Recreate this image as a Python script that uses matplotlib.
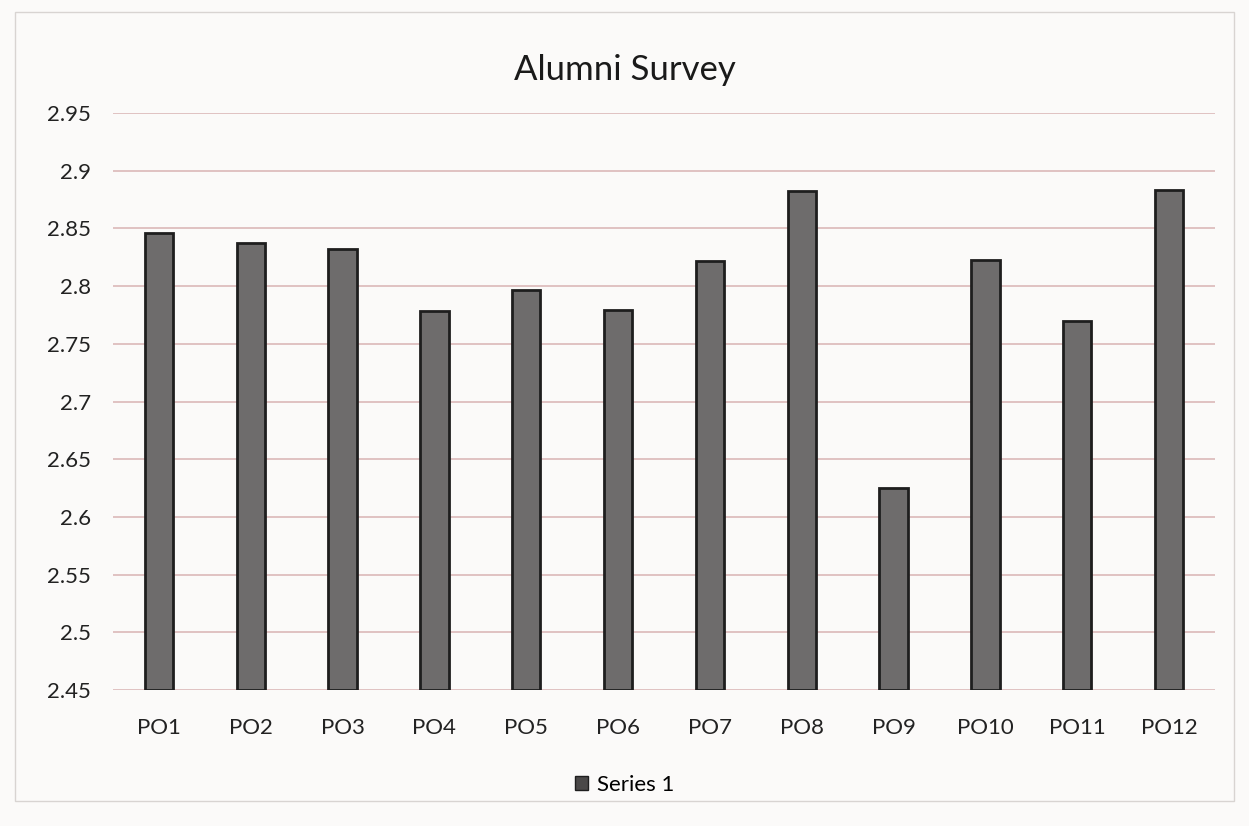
import matplotlib.pyplot as plt
import matplotlib.patches as mpatches

# data
categories = ['PO1', 'PO2', 'PO3', 'PO4', 'PO5', 'PO6', 'PO7', 'PO8', 'PO9', 'PO10', 'PO11', 'PO12']
scores = [2.846, 2.837, 2.832, 2.778, 2.797, 2.779, 2.822, 2.882, 2.625, 2.823, 2.770, 2.883]
yticks = [2.45, 2.5, 2.55, 2.6, 2.65, 2.7, 2.75, 2.8, 2.85, 2.9, 2.95]
ytick_labels = ['2.45', '2.5', '2.55', '2.6', '2.65', '2.7', '2.75', '2.8', '2.85', '2.9', '2.95']

plt.rcParams['font.family'] = ['Lato', 'DejaVu Sans']

fig = plt.figure(figsize=(12.49, 8.26), dpi=100, facecolor='#fbfaf9')
ax = fig.add_axes([113 / 1249, 1 - 690 / 826, (1215 - 113) / 1249, (690 - 113) / 826])
ax.set_facecolor('#fbfaf9')

x = range(len(categories))
bottom = yticks[0]
ax.bar(x, [s - bottom for s in scores], bottom=bottom, width=0.31,
       color='#6e6c6c', edgecolor='#1e1e1e', linewidth=2, zorder=3)

ax.set_ylim(yticks[0], yticks[-1])
ax.set_xlim(-0.5, len(categories) - 0.5)
ax.set_yticks(yticks)
ax.set_yticklabels(ytick_labels)
ax.set_xticks(list(x))
ax.set_xticklabels(categories)
ax.tick_params(axis='both', length=0, labelsize=16, colors='#222222')
ax.tick_params(axis='y', pad=16)
ax.tick_params(axis='x', pad=20)
ax.grid(axis='y', color='#d9b3b3', linewidth=1.1, zorder=0)
for sp in ax.spines.values():
    sp.set_visible(False)

fig.text(0.5, 1 - 70 / 826, 'Alumni Survey', ha='center', va='center', fontsize=25, color='#1a1a1a')

handle = mpatches.Patch(facecolor='#4a4848', edgecolor='#1e1e1e', label='Series 1')
fig.legend(handles=[handle], loc='center', bbox_to_anchor=(0.5, 1 - 785 / 826),
           frameon=False, fontsize=16, handlelength=0.6, handleheight=0.6, handletextpad=0.4)

border = mpatches.Rectangle((0.012, 0.03), 0.976, 0.955, transform=fig.transFigure,
                            fill=False, edgecolor='#d8d4d2', linewidth=1)
fig.add_artist(border)

fig.savefig('out.png', dpi=100, facecolor=fig.get_facecolor())
